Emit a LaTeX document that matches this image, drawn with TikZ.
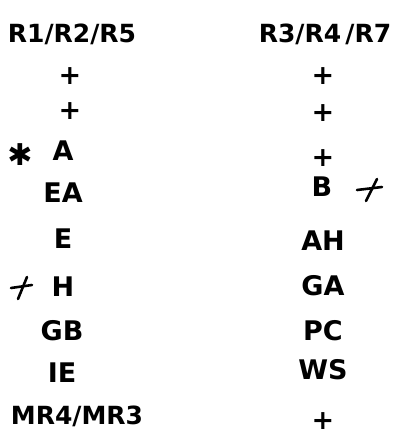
\documentclass[tikz,border=0pt]{standalone}
\usepackage{fontspec}
\setmainfont{DejaVu Sans}
\tikzstyle{entry}=[font=\bfseries\fontsize{27}{30}\selectfont, inner sep=0pt, anchor=base]
\tikzstyle{head}=[font=\bfseries\fontsize{25}{30}\selectfont, inner sep=0pt, anchor=base]
\tikzstyle{star}=[font=\bfseries\fontsize{30}{34}\selectfont, inner sep=0pt]
\tikzstyle{cancel}=[draw, line width=2.6pt, line cap=round]

\begin{document}
\begin{tikzpicture}[x=1pt, y=-1pt]
    \useasboundingbox (0,0) rectangle (415,439);
    % Column headings
    \node[head] (lhead) at (72,42) {R1/R2/R5};
    \node[head] (rhead) at (325,42) {R3/R4\,/R7};
    % First we put the left column
    \foreach \pos/\name/\txt in {{(70,84)/l1/+}, {(70,119)/l2/+}, {(63,160)/l3/A},
        {(63,202)/l4/EA}, {(63,248)/l5/E}, {(63,296)/l6/H}, {(62,340)/l7/GB},
        {(62,382)/l8/IE}}
        \node[entry] (\name) at \pos {\txt};
    \node[head] (l9) at (77,424) {MR4/MR3};
    % Then the right column
    \foreach \pos/\name/\txt in {{(323,84)/r1/+}, {(323,121)/r2/+}, {(323,166)/r3/+},
        {(322,196)/r4/B}, {(323,250)/r5/AH}, {(323,295)/r6/GA}, {(323,340)/r7/PC},
        {(323,379)/r8/WS}, {(323,429)/r9/+}}
        \node[entry] (\name) at \pos {\txt};
    % Marks beside the entries
    \node[star] (mstar) at (20,155) {✱};
    \path[cancel] (11,288) -- (32,285);
    \path[cancel] (27,277) -- (18,299);
    \path[cancel] (357,190) -- (382,187);
    \path[cancel] (377,179) -- (366,201);
\end{tikzpicture}
\end{document}
